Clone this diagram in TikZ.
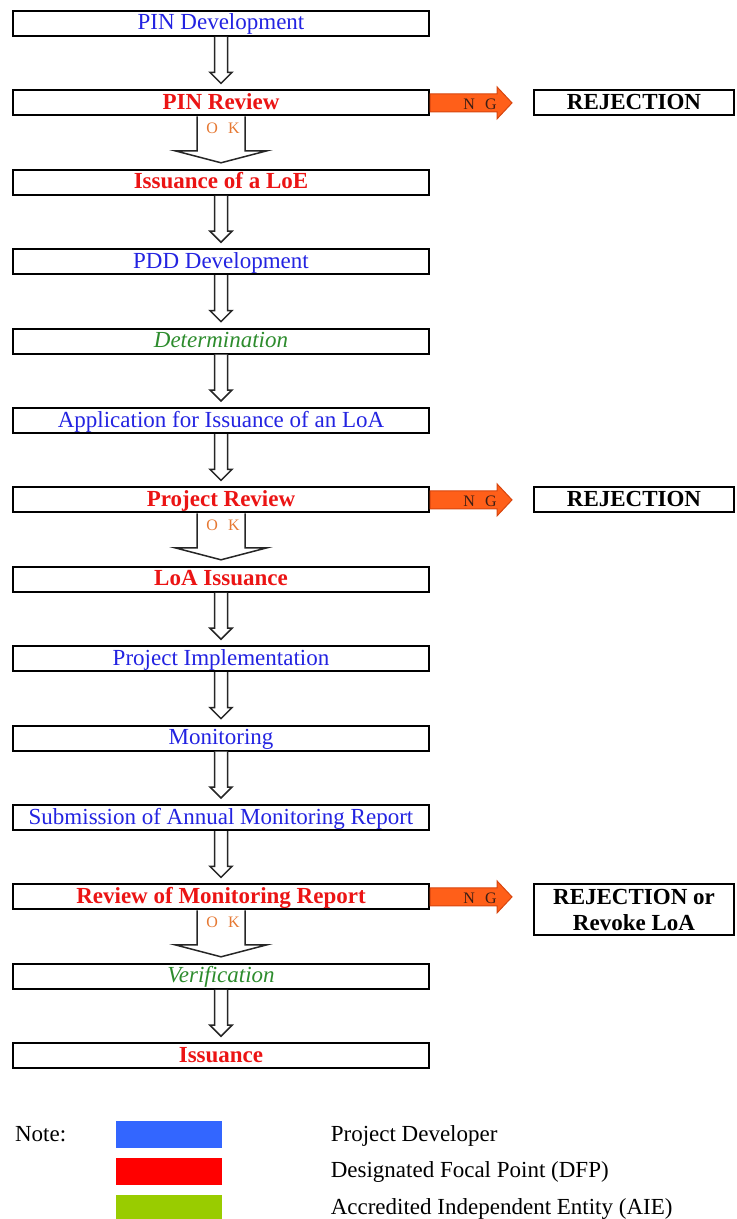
\documentclass[tikz,border=0pt]{standalone}
\usepackage{fontspec}
\setmainfont{Liberation Serif}
\usetikzlibrary{positioning,calc}

\definecolor{devblue}{RGB}{35,35,225}
\definecolor{dfpred}{RGB}{235,20,20}
\definecolor{aiegreen}{RGB}{45,140,45}
\definecolor{okorange}{RGB}{230,120,50}
\definecolor{ngfill}{RGB}{255,95,25}
\definecolor{ngdraw}{RGB}{215,70,15}
\definecolor{ngtext}{RGB}{60,30,20}
\definecolor{lgblue}{RGB}{51,102,255}
\definecolor{lgred}{RGB}{255,0,0}
\definecolor{lggreen}{RGB}{153,204,0}

% hollow block arrow, box #1 down to box #2 (#3 half shaft, #4 half head, #5 head length)
\newcommand{\flowarrow}[5]{%
  \draw[hollow] ($(#1.south)+(-#3,0)$) -- ($(#2.north)+(-#3,#5+6)$) -- ($(#2.north)+(-#4,#5+6)$)
    -- ($(#2.north)+(0,6)$) -- ($(#2.north)+(#4,#5+6)$) -- ($(#2.north)+(#3,#5+6)$) -- ($(#1.south)+(#3,0)$);}
% orange NG arrow, box #1 across to rejection box #2
\newcommand{\ngarrow}[2]{%
  \coordinate (#1tip) at ($(#2.west |- #1.east)+(-21,0)$);
  \draw[ngarr] ($(#1.east)+(0,9)$) -- ($(#1tip)+(-15,9)$) -- ($(#1tip)+(-15,16)$) -- (#1tip)
    -- ($(#1tip)+(-15,-16)$) -- ($(#1tip)+(-15,-9)$) -- ($(#1.east)+(0,-9)$) -- cycle;
  \node[nglabel] (#1ng) at ($(#1.east)!0.61!(#1tip)+(0,-1)$) {N\hspace{5pt}G};}

\begin{document}
\begin{tikzpicture}[x=0.5pt, y=0.5pt,
                    box/.style={draw, line width=1pt, minimum width=208pt, minimum height=12.5pt,
                                inner sep=0pt, text height=8.5pt, text depth=2pt},
                    dev/.style={box, text=devblue, font=\fontsize{11.5}{13}\selectfont},
                    dfp/.style={box, text=dfpred, font=\fontsize{11.5}{13}\selectfont\bfseries},
                    aie/.style={box, text=aiegreen, font=\fontsize{11.5}{13}\selectfont\itshape},
                    rej/.style={box, minimum width=100pt, align=center,
                                font=\fontsize{11.5}{13}\selectfont\bfseries},
                    hollow/.style={draw=black!85, fill=white, line width=0.75pt, line join=miter},
                    ngarr/.style={fill=ngfill, draw=ngdraw, line width=0.5pt},
                    oklabel/.style={text=okorange, inner sep=0pt, font=\fontsize{8}{9}\selectfont},
                    nglabel/.style={text=ngtext, inner sep=0pt, font=\fontsize{8}{9}\selectfont},
                    swatch/.style={minimum width=53pt, minimum height=13.5pt, inner sep=0pt},
                    lgtext/.style={anchor=west, inner sep=0pt, text height=8.5pt, text depth=2pt,
                                   font=\fontsize{11.5}{13}\selectfont}]
  \useasboundingbox (0,0) rectangle (736,-1219);
  % main flow
  \node[dev] (pindev) at (221,-23.5) {PIN Development};
  \node[dfp, below=26.2pt of pindev] (pinrev) {PIN Review};
  \node[dfp, below=26.2pt of pinrev] (loe) {Issuance of a LoE};
  \node[dev, below=26.2pt of loe] (pdd) {PDD Development};
  \node[aie, below=26.2pt of pdd] (determ) {Determination};
  \node[dev, below=26.2pt of determ] (loaapp) {Application for Issuance of an LoA};
  \node[dfp, below=26.2pt of loaapp] (projrev) {Project Review};
  \node[dfp, below=26.2pt of projrev] (loaiss) {LoA Issuance};
  \node[dev, below=26.2pt of loaiss] (projimpl) {Project Implementation};
  \node[dev, below=26.2pt of projimpl] (monit) {Monitoring};
  \node[dev, below=26.2pt of monit] (amr) {Submission of Annual Monitoring Report};
  \node[dfp, below=26.2pt of amr] (mrrev) {Review of Monitoring Report};
  \node[aie, below=26.2pt of mrrev] (verif) {Verification};
  \node[dfp, below=26.2pt of verif] (iss) {Issuance};
  % rejections
  \node[rej, right=51.5pt of pinrev] (rej1) {REJECTION};
  \node[rej, right=51.5pt of projrev] (rej2) {REJECTION};
  \node[rej, minimum height=25.5pt, right=51.5pt of mrrev.north east, anchor=north west,
        text height=, text depth=] (rej3) {REJECTION or\\Revoke LoA};
  % arrows
  \flowarrow{pindev}{pinrev}{6.5}{11}{11}
  \flowarrow{pinrev}{loe}{24}{46}{12}
  \flowarrow{loe}{pdd}{6.5}{11}{11}
  \flowarrow{pdd}{determ}{6.5}{11}{11}
  \flowarrow{determ}{loaapp}{6.5}{11}{11}
  \flowarrow{loaapp}{projrev}{6.5}{11}{11}
  \flowarrow{projrev}{loaiss}{24}{46}{12}
  \flowarrow{loaiss}{projimpl}{6.5}{11}{11}
  \flowarrow{projimpl}{monit}{6.5}{11}{11}
  \flowarrow{monit}{amr}{6.5}{11}{11}
  \flowarrow{amr}{mrrev}{6.5}{11}{11}
  \flowarrow{mrrev}{verif}{24}{46}{12}
  \flowarrow{verif}{iss}{6.5}{11}{11}
  \node[oklabel] (pinrevok) at ($(pinrev.south)+(2,-12)$) {O\hspace{5pt}K};
  \node[oklabel] (projrevok) at ($(projrev.south)+(2,-12)$) {O\hspace{5pt}K};
  \node[oklabel] (mrrevok) at ($(mrrev.south)+(2,-12)$) {O\hspace{5pt}K};
  \ngarrow{pinrev}{rej1}
  \ngarrow{projrev}{rej2}
  \ngarrow{mrrev}{rej3}
  % legend
  \node[swatch, fill=lgblue] (lgdev) at (169,-1134.5) {};
  \node[swatch, fill=lgred, below=4.5pt of lgdev] (lgdfp) {};
  \node[swatch, fill=lggreen, below=4.5pt of lgdfp] (lgaie) {};
  \node[lgtext, anchor=east, left=24.5pt of lgdev] (note) {Note:};
  \node[lgtext, right=54pt of lgdev] (lgdevtxt) {Project Developer};
  \node[lgtext, right=54pt of lgdfp] (lgdfptxt) {Designated Focal Point (DFP)};
  \node[lgtext, right=54pt of lgaie] (lgaietxt) {Accredited Independent Entity (AIE)};
\end{tikzpicture}
\end{document}
